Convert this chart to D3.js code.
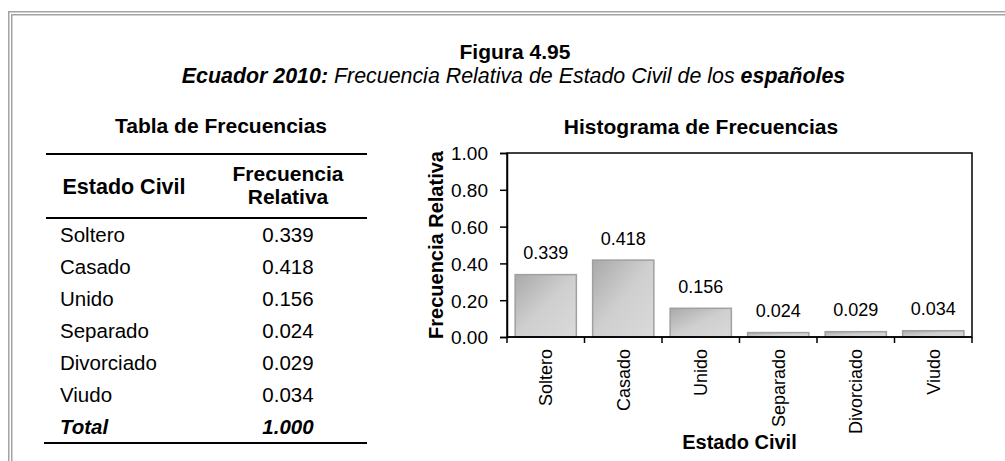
<!DOCTYPE html>
<html>
<head>
<meta charset="utf-8">
<script src="https://cdn.jsdelivr.net/npm/d3@7"></script>
<style>
  html, body { margin: 0; padding: 0; background: #fff; }
  svg { display: block; font-family: "Liberation Sans", Arial, sans-serif; }
</style>
</head>
<body>
<svg id="fig" width="1005" height="461"></svg>
<script>
// Relative frequency of marital status
const categories = ["Soltero", "Casado", "Unido", "Separado", "Divorciado", "Viudo"];
const relFreq = [0.339, 0.418, 0.156, 0.024, 0.029, 0.034];
const yTicks = [0, 0.2, 0.4, 0.6, 0.8, 1.0];
const totalValue = 1.0;

const svg = d3.select("#fig");
const W = 1005, H = 461;

// double grey frame around the figure
const frameColor = "#a3a3a3";
[[8, 11], [11, 14]].forEach(([x0, y0]) => {
  svg.append("rect").attr("x", x0).attr("y", y0).attr("width", W + 20).attr("height", 1.5).attr("fill", frameColor);
  svg.append("rect").attr("x", x0).attr("y", y0).attr("width", 1.5).attr("height", H + 20).attr("fill", frameColor);
});

// figure headings
svg.append("text").attr("x", 515).attr("y", 59).attr("text-anchor", "middle")
  .attr("font-size", 21).attr("font-weight", "bold").text("Figura 4.95");

const sub = svg.append("text").attr("x", 513.5).attr("y", 83).attr("text-anchor", "middle")
  .attr("font-size", 21.4).attr("font-style", "italic");
sub.append("tspan").attr("font-weight", "bold").text("Ecuador 2010:");
sub.append("tspan").text(" Frecuencia Relativa de Estado Civil de los ");
sub.append("tspan").attr("font-weight", "bold").text("españoles");

// ---- frequency table ----
svg.append("text").attr("x", 221).attr("y", 133).attr("text-anchor", "middle")
  .attr("font-size", 21).attr("font-weight", "bold").text("Tabla de Frecuencias");

const tbl = svg.append("g");
const colLeft = 60, colVal = 288;
tbl.append("rect").attr("x", 46).attr("y", 153).attr("width", 321).attr("height", 2).attr("fill", "#000");
tbl.append("rect").attr("x", 46).attr("y", 217).attr("width", 321).attr("height", 2).attr("fill", "#000");
tbl.append("rect").attr("x", 44).attr("y", 442).attr("width", 323).attr("height", 2).attr("fill", "#000");

tbl.append("text").attr("x", 124).attr("y", 194).attr("text-anchor", "middle")
  .attr("font-size", 21.5).attr("font-weight", "bold").text("Estado Civil");
tbl.append("text").attr("x", colVal).attr("y", 181).attr("text-anchor", "middle")
  .attr("font-size", 21).attr("font-weight", "bold").text("Frecuencia");
tbl.append("text").attr("x", colVal).attr("y", 204).attr("text-anchor", "middle")
  .attr("font-size", 21).attr("font-weight", "bold").text("Relativa");

const rowY = d3.scaleLinear().domain([0, 1]).range([242, 274]);
const fmt3 = d3.format(".3f");
categories.forEach((c, i) => {
  tbl.append("text").attr("x", colLeft).attr("y", rowY(i)).attr("font-size", 20.5).text(c);
  tbl.append("text").attr("x", colVal).attr("y", rowY(i)).attr("text-anchor", "middle")
    .attr("font-size", 20.5).text(fmt3(relFreq[i]));
});
tbl.append("text").attr("x", colLeft).attr("y", rowY(categories.length)).attr("font-size", 20.5)
  .attr("font-weight", "bold").attr("font-style", "italic").text("Total");
tbl.append("text").attr("x", colVal).attr("y", rowY(categories.length)).attr("text-anchor", "middle")
  .attr("font-size", 20.5).attr("font-weight", "bold").attr("font-style", "italic").text(fmt3(totalValue));

// ---- histogram ----
const plot = { left: 507, right: 972, top: 153, bottom: 337 };

svg.append("text").attr("x", 701).attr("y", 134).attr("text-anchor", "middle")
  .attr("font-size", 21).attr("font-weight", "bold").text("Histograma de Frecuencias");

const defs = svg.append("defs");
const grad = defs.append("linearGradient").attr("id", "barFill")
  .attr("x1", 0).attr("y1", 0).attr("x2", 1).attr("y2", 1);
grad.append("stop").attr("offset", "0%").attr("stop-color", "#a9a9a9");
grad.append("stop").attr("offset", "50%").attr("stop-color", "#cfcfcf");
grad.append("stop").attr("offset", "100%").attr("stop-color", "#dadada");

const x = d3.scaleBand().domain(categories).range([plot.left, plot.right])
  .paddingInner(0.21).paddingOuter(0.105);
const y = d3.scaleLinear().domain([0, 1]).range([plot.bottom, plot.top]);

// bars
svg.append("g").selectAll("rect").data(categories).join("rect")
  .attr("x", d => x(d))
  .attr("y", (d, i) => y(relFreq[i]))
  .attr("width", x.bandwidth())
  .attr("height", (d, i) => y(0) - y(relFreq[i]))
  .attr("fill", "url(#barFill)")
  .attr("stroke", "#a0a0a0").attr("stroke-width", 1.5);

// value labels
svg.append("g").selectAll("text").data(categories).join("text")
  .attr("x", d => x(d) + x.bandwidth() / 2)
  .attr("y", (d, i) => y(relFreq[i]) - 15.5)
  .attr("text-anchor", "middle").attr("font-size", 18)
  .text((d, i) => d3.format(".3f")(relFreq[i]));

// plot frame
svg.append("rect").attr("x", plot.left).attr("y", plot.top)
  .attr("width", plot.right - plot.left).attr("height", plot.bottom - plot.top)
  .attr("fill", "none").attr("stroke", "#000").attr("stroke-width", 1.5);

// y axis
const yAxis = svg.append("g").attr("transform", `translate(${plot.left},0)`)
  .call(d3.axisLeft(y).tickValues(yTicks).tickFormat(d3.format(".2f")).tickSize(7).tickPadding(12));
yAxis.attr("font-family", null);
yAxis.select(".domain").attr("stroke-width", 1.5);
yAxis.selectAll(".tick line").attr("stroke-width", 1.5);
yAxis.selectAll("text").attr("font-size", 19).attr("fill", "#000").attr("dy", "0.36em");

// x axis: ticks at category boundaries, rotated labels
const step = x.step();
const edges = d3.range(categories.length + 1).map(i => plot.left + i * step);
const xAxis = svg.append("g");
xAxis.append("line").attr("x1", plot.left).attr("x2", plot.right)
  .attr("y1", plot.bottom).attr("y2", plot.bottom).attr("stroke", "#000").attr("stroke-width", 1.5);
xAxis.selectAll(".edge").data(edges).join("line").attr("class", "edge")
  .attr("x1", d => d).attr("x2", d => d)
  .attr("y1", plot.bottom).attr("y2", plot.bottom + 6)
  .attr("stroke", "#000").attr("stroke-width", 1.5);
xAxis.selectAll(".lbl").data(categories).join("text").attr("class", "lbl")
  .attr("transform", d => `translate(${x(d) + x.bandwidth() / 2},${plot.bottom + 12}) rotate(-90)`)
  .attr("text-anchor", "end").attr("dy", "0.35em").attr("font-size", 18)
  .text(d => d);

// axis titles
svg.append("text").attr("x", (plot.left + plot.right) / 2).attr("y", 449)
  .attr("text-anchor", "middle").attr("font-size", 20).attr("font-weight", "bold").text("Estado Civil");
svg.append("text")
  .attr("transform", `translate(443,${(plot.top + plot.bottom) / 2}) rotate(-90)`)
  .attr("text-anchor", "middle").attr("font-size", 20).attr("font-weight", "bold").text("Frecuencia Relativa");
</script>
</body>
</html>
